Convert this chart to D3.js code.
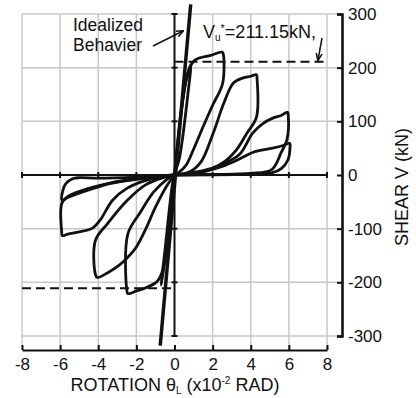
<!DOCTYPE html>
<html>
<head>
<meta charset="utf-8">
<script src="https://cdn.jsdelivr.net/npm/d3@7"></script>
<style>
  body { margin: 0; background: #fff; }
  svg text { font-family: "Liberation Sans", Arial, sans-serif; fill: #111; }
</style>
</head>
<body>
<div id="chart"></div>
<script>
// axis values
var xTicks = [-8, -6, -4, -2, 0, 2, 4, 6, 8];
var yTicks = [-300, -200, -100, 0, 100, 200, 300];
var vu = 211.15;
var idealized = [[-0.75, -318], [0.85, 318]];

// hysteresis loops: [rotation x1e-2 rad, shear kN]
var elastic = [[0,0],[0.3,100],[0.6,175],[0.85,205],[0.7,150],[0.25,30],[0,0],[-0.3,-90],[-0.55,-170],[-0.7,-205],[-0.5,-140],[-0.1,-15],[0,0]];
var pos1 = [[0,0],[0.35,120],[0.7,190],[1.0,212],[1.3,218],[1.9,223],[2.5,229],[2.56,225],[2.52,170],[2.0,130],[1.5,90],[1.0,48],[0.6,18],[0.2,4],[0,0]];
var neg1 = [[0,0],[-0.3,-90],[-0.6,-175],[-0.9,-198],[-1.5,-210],[-2.0,-216],[-2.45,-221],[-2.5,-215],[-2.45,-110],[-1.8,-70],[-1.1,-32],[-0.4,-8],[0,0]];
var pos2 = [[0,0],[0.8,6],[1.4,25],[2.0,75],[2.6,135],[3.1,172],[3.6,181],[4.0,184],[4.3,187],[4.33,180],[4.3,108],[3.8,78],[3.25,47],[2.5,22],[1.5,6],[0.5,1],[0,0]];
var neg2 = [[0,0],[-0.4,-20],[-1.0,-60],[-1.5,-100],[-2.0,-134],[-2.5,-155],[-2.9,-168],[-3.5,-182],[-4.05,-191],[-4.15,-185],[-4.15,-122],[-3.5,-90],[-2.5,-48],[-1.5,-18],[-0.5,-4],[0,0]];
var pos3 = [[0,0],[1.5,8],[2.5,20],[3.4,38],[4.1,78],[4.6,95],[5.15,106],[5.6,111],[5.93,117],[5.97,110],[5.9,66],[5.6,42],[5.1,10],[4.0,3],[2.0,1],[0,0]];
var neg3 = [[0,0],[-1.5,-10],[-2.5,-25],[-3.25,-47],[-3.9,-84],[-4.3,-99],[-5.0,-106],[-5.6,-110],[-5.88,-113],[-5.92,-105],[-5.9,-52],[-5.5,-38],[-4.5,-25],[-3.4,-15],[-2,-7],[-1,-3],[0,0]];
var pos4 = [[0,0],[1.5,6],[2.5,16],[3.3,28],[4.1,42],[5.15,50],[5.7,55],[6.04,59],[6.06,50],[5.95,28],[5.6,12],[5.1,4],[3.5,1],[0,0]];
var neg4 = [[0,0],[-2,-4],[-4,-6],[-5.0,-5],[-5.35,-7],[-5.7,-16],[-5.85,-28],[-5.9,-47],[-5.6,-42],[-4.5,-28],[-3.4,-16],[-2,-8],[-1,-4],[0,0]];
var loops = [elastic, pos1, neg1, pos2, neg2, pos3, neg3, pos4, neg4];

var W = 416, H = 398;
var x = d3.scaleLinear().domain([-8, 8]).range([22, 327]);
var y = d3.scaleLinear().domain([-300, 300]).range([336, 14]);
var rightX = 342, bottomY = 350;

var svg = d3.select("#chart").append("svg")
    .attr("width", W).attr("height", H);

svg.append("defs").append("marker")
    .attr("id", "arr")
    .attr("viewBox", "0 0 10 10")
    .attr("refX", 9).attr("refY", 5)
    .attr("markerWidth", 5).attr("markerHeight", 5)
    .attr("orient", "auto")
    .append("path").attr("d", "M0,1L10,5L0,9").attr("fill", "none").attr("stroke", "#111").attr("stroke-width", 2);

// grid
var grid = svg.append("g").attr("stroke", "#c8c8c8").attr("stroke-width", 1.5);
xTicks.filter(function(d) { return d !== 0; }).forEach(function(d) {
    grid.append("line").attr("x1", x(d)).attr("x2", x(d)).attr("y1", y(300)).attr("y2", bottomY);
});
yTicks.filter(function(d) { return d !== 0; }).forEach(function(d) {
    grid.append("line").attr("x1", x(-8)).attr("x2", rightX).attr("y1", y(d)).attr("y2", y(d));
});

var ax = svg.append("g").attr("stroke", "#111").attr("stroke-width", 2);
// zero lines
ax.append("line").attr("x1", x(-8)).attr("x2", x(8)).attr("y1", y(0)).attr("y2", y(0));
ax.append("line").attr("x1", x(0)).attr("x2", x(0)).attr("y1", y(300)).attr("y2", y(-300));
xTicks.forEach(function(d) {
    ax.append("line").attr("x1", x(d)).attr("x2", x(d)).attr("y1", y(0) - 3).attr("y2", y(0) + 3);
});
yTicks.forEach(function(d) {
    ax.append("line").attr("x1", x(0) - 3).attr("x2", x(0) + 3).attr("y1", y(d)).attr("y2", y(d));
});

// bottom axis
var xAxis = svg.append("g").attr("transform", "translate(0," + bottomY + ")")
    .call(d3.axisBottom(x).tickValues(xTicks).tickSizeInner(-5).tickSizeOuter(0).tickPadding(8)
        .tickFormat(function(d) { return String(d).replace("−", "-"); }));
xAxis.select(".domain").attr("stroke", "#111").attr("stroke-width", 2.2);
xAxis.selectAll(".tick line").attr("stroke", "#111").attr("stroke-width", 2);
xAxis.selectAll("text").attr("font-size", 17).attr("font-family", "Liberation Sans, Arial, sans-serif").attr("fill", "#111");

// right axis
var yAxis = svg.append("g").attr("transform", "translate(" + rightX + ",0)")
    .call(d3.axisRight(y).tickValues(yTicks).tickSizeInner(-5).tickSizeOuter(-5).tickPadding(6)
        .tickFormat(function(d) { return String(d).replace("−", "-"); }));
yAxis.select(".domain").attr("stroke", "#111").attr("stroke-width", 2.6);
yAxis.selectAll(".tick line").attr("stroke", "#111").attr("stroke-width", 2);
yAxis.selectAll("text").attr("font-size", 17).attr("font-family", "Liberation Sans, Arial, sans-serif").attr("fill", "#111");

// V_u* dashed limits
var dash = svg.append("g").attr("stroke", "#111").attr("stroke-width", 2).attr("stroke-dasharray", "9,5");
dash.append("line").attr("x1", x(0)).attr("x2", x(8)).attr("y1", y(vu)).attr("y2", y(vu));
dash.append("line").attr("x1", x(-8)).attr("x2", x(0)).attr("y1", y(-vu)).attr("y2", y(-vu));

// hysteresis
var line = d3.line()
    .x(function(d) { return x(d[0]); })
    .y(function(d) { return y(d[1]); })
    .curve(d3.curveCatmullRom.alpha(0.5));
svg.append("g").selectAll("path").data(loops).enter().append("path")
    .attr("d", line)
    .attr("fill", "none").attr("stroke", "#111").attr("stroke-width", 2.8)
    .attr("stroke-linejoin", "round");

// idealized behaviour
svg.append("path").attr("d", d3.line().x(function(d) { return x(d[0]); }).y(function(d) { return y(d[1]); })(idealized))
    .attr("stroke", "#111").attr("stroke-width", 3.5).attr("fill", "none");

// annotations
svg.append("text").attr("x", 73).attr("y", 31).attr("font-size", 17.5).text("Idealized");
svg.append("text").attr("x", 73).attr("y", 51).attr("font-size", 17.5).text("Behavier");
svg.append("line").attr("x1", 153).attr("y1", 46).attr("x2", 183).attr("y2", 31)
    .attr("stroke", "#111").attr("stroke-width", 1.5).attr("marker-end", "url(#arr)");

var vt = svg.append("text").attr("x", 203).attr("y", 38).attr("font-size", 18);
vt.append("tspan").text("V");
vt.append("tspan").attr("font-size", 10).attr("dy", 3).text("u");
vt.append("tspan").attr("font-size", 11).attr("dy", -9).text("*");
vt.append("tspan").attr("dy", 6).text("=211.15kN,");
svg.append("line").attr("x1", 322).attr("y1", 38).attr("x2", 318).attr("y2", 60)
    .attr("stroke", "#111").attr("stroke-width", 1.5).attr("marker-end", "url(#arr)");

// axis titles
var xt = svg.append("text").attr("x", 175).attr("y", 391).attr("text-anchor", "middle").attr("font-size", 18);
xt.append("tspan").text("ROTATION \u03b8");
xt.append("tspan").attr("font-size", 10).attr("dy", 3).text("L");
xt.append("tspan").attr("dy", -3).text(" (x10");
xt.append("tspan").attr("font-size", 10).attr("dy", -7).text("-2");
xt.append("tspan").attr("dy", 7).text(" RAD)");

svg.append("text").attr("transform", "translate(408,187) rotate(-90)")
    .attr("text-anchor", "middle").attr("font-size", 18).text("SHEAR V (kN)");
</script>
</body>
</html>
